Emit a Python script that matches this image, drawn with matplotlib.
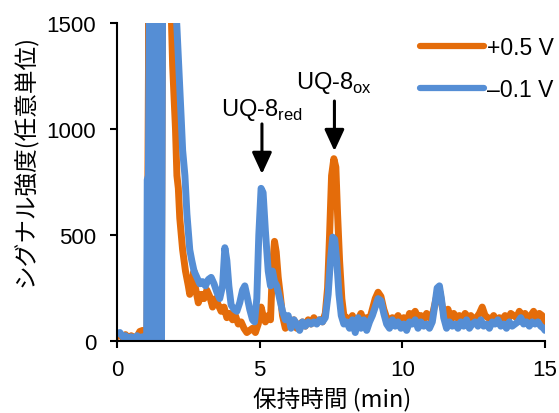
import numpy as np
import matplotlib.pyplot as plt

# retention time (min) and signal (a.u.)
t_ox = [0.0, 0.1, 0.2, 0.3, 0.4, 0.5, 0.6, 0.7, 0.8, 0.9, 1.0, 1.05, 1.08, 1.12, 1.18, 1.25, 1.3,
        1.38, 1.45, 1.5, 1.55, 1.6, 1.75, 1.9, 1.95, 2.0, 2.05, 2.1, 2.15, 2.2, 2.3, 2.4, 2.5,
        2.55, 2.6, 2.7, 2.75, 2.85, 2.95, 3.05, 3.15, 3.25, 3.35, 3.45, 3.55, 3.65, 3.75, 3.85,
        3.95, 4.05, 4.15, 4.25, 4.35, 4.45, 4.55, 4.65, 4.75, 4.85, 4.95, 5.05, 5.12, 5.2, 5.3,
        5.38, 5.45, 5.52, 5.58, 5.65, 5.72, 5.8, 5.9, 6.0, 6.1, 6.2, 6.3, 6.4, 6.5, 6.6, 6.7,
        6.8, 6.9, 7.0, 7.1, 7.2, 7.3, 7.38, 7.45, 7.52, 7.6, 7.67, 7.73, 7.8, 7.88, 7.95, 8.05,
        8.15, 8.25, 8.35, 8.45, 8.55, 8.65, 8.75, 8.85, 8.95, 9.05, 9.15, 9.25, 9.35, 9.45, 9.55,
        9.65, 9.75, 9.85, 9.95, 10.05, 10.15, 10.25, 10.35, 10.45, 10.55, 10.65, 10.75, 10.85,
        10.95, 11.05, 11.15, 11.25, 11.32, 11.4, 11.5, 11.6, 11.7, 11.8, 11.9, 12.0, 12.1, 12.2,
        12.3, 12.4, 12.5, 12.6, 12.7, 12.8, 12.9, 13.0, 13.1, 13.2, 13.3, 13.4, 13.5, 13.6, 13.7,
        13.8, 13.9, 14.0, 14.1, 14.2, 14.3, 14.4, 14.5, 14.6, 14.7, 14.8, 14.9, 15.0]
v_ox = [20, 35, 15, 30, 10, 25, 15, 20, 45, 50, 20, 30, 700, 1700, 0, 1700, 0,
        1700, 0, 1700, 20, 1700, 1800, 1550, 1300, 1150, 1000, 780, 720, 580, 430, 330, 260,
        220, 260, 330, 250, 180, 220, 200, 240, 210, 160, 200, 170, 140, 160, 110,
        130, 100, 120, 80, 90, 60, 40, 50, 60, 40, 80, 160, 120, 90, 120,
        100, 350, 470, 420, 300, 220, 120, 60, 90, 70, 100, 60, 80, 90, 70, 100,
        80, 110, 90, 100, 90, 130, 250, 500, 780, 860, 820, 600, 380, 200, 120, 110,
        90, 120, 80, 100, 130, 90, 110, 100, 150, 200, 230, 210, 150, 110, 90,
        110, 100, 120, 90, 110, 80, 130, 120, 140, 110, 120, 100, 130,
        110, 120, 180, 240, 230, 160, 120, 150, 100, 130, 110, 120, 100, 130,
        110, 120, 100, 110, 130, 160, 120, 110, 100, 120, 90, 110, 100, 120, 100,
        130, 120, 110, 140, 120, 130, 100, 120, 140, 110, 130, 120, 90]

t_red = [0.0, 0.1, 0.2, 0.3, 0.4, 0.5, 0.6, 0.7, 0.8, 0.9, 1.0, 1.04, 1.06, 1.1, 1.14, 1.2, 1.26,
         1.32, 1.4, 1.46, 1.52, 1.56, 1.6, 1.8, 2.05, 2.1, 2.2, 2.25, 2.3, 2.38, 2.45, 2.55,
         2.62, 2.7, 2.8, 2.9, 3.0, 3.1, 3.2, 3.3, 3.4, 3.5, 3.6, 3.7, 3.78, 3.85, 3.92, 4.0,
         4.1, 4.2, 4.3, 4.4, 4.48, 4.56, 4.65, 4.75, 4.82, 4.9, 4.97, 5.05, 5.12, 5.2, 5.3,
         5.38, 5.45, 5.52, 5.6, 5.7, 5.8, 5.9, 6.0, 6.1, 6.2, 6.3, 6.4, 6.5, 6.6, 6.7, 6.8,
         6.9, 7.0, 7.1, 7.2, 7.3, 7.4, 7.48, 7.56, 7.63, 7.7, 7.78, 7.86, 7.95, 8.05, 8.15,
         8.25, 8.35, 8.45, 8.55, 8.65, 8.75, 8.85, 8.95, 9.05, 9.15, 9.25, 9.35, 9.45, 9.55,
         9.65, 9.75, 9.85, 9.95, 10.05, 10.15, 10.25, 10.35, 10.45, 10.55, 10.65, 10.75, 10.85,
         10.95, 11.05, 11.15, 11.22, 11.3, 11.37, 11.45, 11.55, 11.65, 11.75, 11.85, 11.95,
         12.05, 12.15, 12.25, 12.35, 12.45, 12.55, 12.65, 12.75, 12.85, 12.95, 13.05, 13.15,
         13.25, 13.35, 13.45, 13.55, 13.65, 13.75, 13.85, 13.95, 14.05, 14.15, 14.25, 14.35,
         14.45, 14.55, 14.65, 14.75, 14.85, 14.95, 15.0]
v_red = [35, 40, 20, 25, 10, 20, 5, 25, 15, 20, 10, 20, 760, 780, 1700, 0, 1700,
         0, 1700, 0, 1700, 0, 1700, 1800, 1600, 1480, 1200, 1050, 900, 780, 600, 430,
         380, 330, 300, 270, 280, 260, 290, 300, 270, 230, 200, 260, 440, 380, 260, 170,
         150, 140, 180, 240, 260, 210, 150, 100, 90, 200, 500, 720, 700, 520, 330,
         260, 330, 280, 260, 200, 140, 100, 120, 60, 100, 80, 50, 90, 70, 90, 80,
         90, 80, 100, 90, 110, 220, 380, 490, 480, 380, 220, 120, 80, 90, 60,
         100, 40, 110, 60, 100, 50, 90, 120, 160, 200, 190, 130, 80, 60,
         100, 70, 90, 60, 80, 50, 90, 80, 100, 60, 90, 70, 80,
         60, 90, 180, 250, 260, 200, 110, 60, 90, 70, 80, 60,
         90, 70, 100, 60, 80, 90, 70, 100, 70, 80, 60, 90,
         80, 100, 70, 80, 60, 90, 70, 80, 90, 110, 80, 90,
         70, 90, 80, 90, 70, 60, 50]

labels = ["+0.5 V", "\u20130.1 V"]
colors = ["#E46C0A", "#558ED5"]

# arrow tips / tails and label baselines for the two peaks
peak_names = ["UQ-8$_{\\mathrm{red}}$", "UQ-8$_{\\mathrm{ox}}$"]
peak_t = [5.08, 7.62]
arrow_tip = [788, 896]
arrow_tail = [1024, 1132]
label_y = [1068, 1195]

plt.rcParams['font.family'] = ['Liberation Sans', 'Noto Sans CJK JP', 'DejaVu Sans']
plt.rcParams['mathtext.fontset'] = 'custom'
plt.rcParams['mathtext.rm'] = 'Liberation Sans'

fig = plt.figure(figsize=(5.59, 4.14), dpi=100)
ax = fig.add_axes([117 / 559, 1 - 342 / 414, 428 / 559, 318 / 414])

ax.plot(t_ox, v_ox, color=colors[0], lw=5, solid_joinstyle='round', solid_capstyle='round', label=labels[0])
ax.plot(t_red, v_red, color=colors[1], lw=5, solid_joinstyle='round', solid_capstyle='round', label=labels[1])

ax.set_xlim(0, 15)
ax.set_ylim(0, 1500)
ax.set_xticks([0, 5, 10, 15])
ax.set_yticks([0, 500, 1000, 1500])
for side in ['top', 'right']:
    ax.spines[side].set_visible(False)
for side in ['left', 'bottom']:
    ax.spines[side].set_linewidth(1.5)
ax.tick_params(length=5, width=1.5, labelsize=16)
ax.tick_params(axis='x', pad=8)
ax.tick_params(axis='y', pad=10)

ax.set_xlabel("保持時間 (min)", fontsize=17, family=['Noto Sans CJK JP'])
ax.xaxis.set_label_coords(0.502, -0.145)
ax.set_ylabel("シグナル強度(任意単位)", fontsize=17, family=['Noto Sans CJK JP'])
ax.yaxis.set_label_coords(-0.185, 0.57)

# peak markers
for name, t, tip, tail, ly in zip(peak_names, peak_t, arrow_tip, arrow_tail, label_y):
    ax.text(t, ly, name, ha='center', va='baseline', fontsize=17)
    ax.annotate("", xy=(t, tip), xytext=(t, tail),
                arrowprops=dict(arrowstyle='-|>,head_width=0.3,head_length=0.65', color='black',
                                lw=2.2, mutation_scale=20, shrinkA=0, shrinkB=0))

leg = fig.legend(loc='upper right', bbox_to_anchor=(554 / 559, 1 - 37 / 414), frameon=False,
                 fontsize=16.5, handlelength=2.8, handletextpad=0.13, labelspacing=0.83, borderpad=0,
                 borderaxespad=0)
for line in leg.get_lines():
    line.set_linewidth(4.5)

fig.savefig("out.png", dpi=100)
